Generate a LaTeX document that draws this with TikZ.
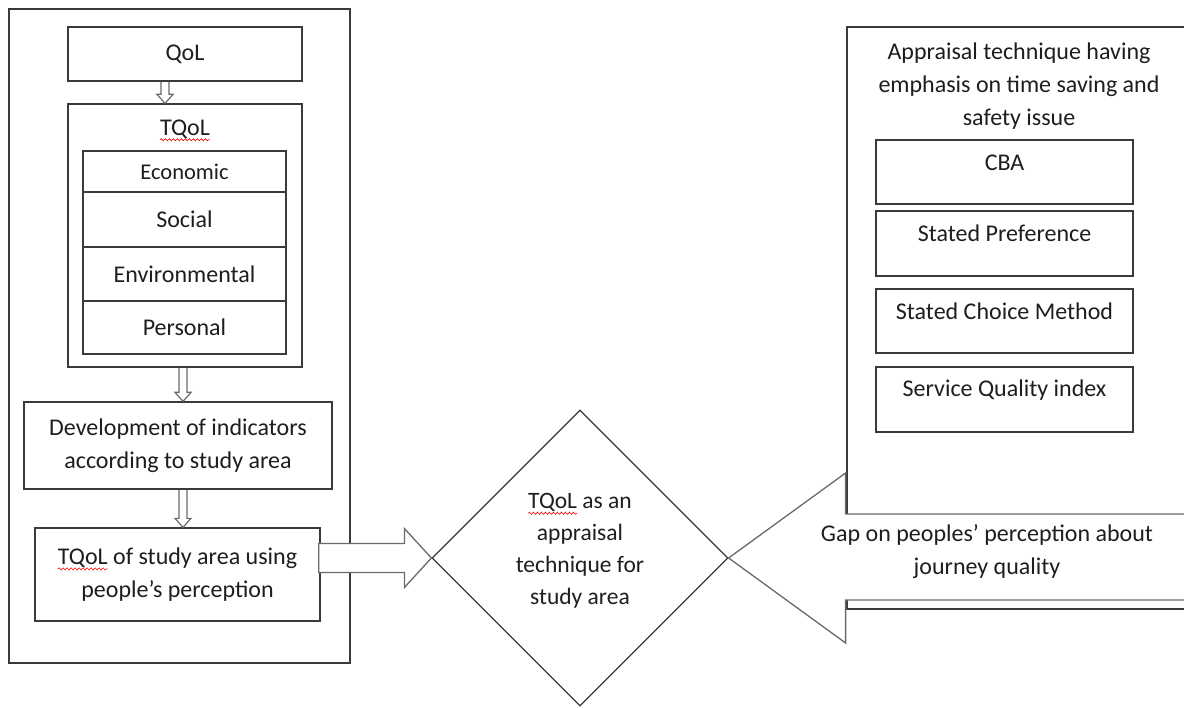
\documentclass[tikz,border=0pt]{standalone}
\usepackage{fontspec}
\setmainfont{Carlito}
\usetikzlibrary{shapes.geometric,calc,decorations.pathmorphing}

\definecolor{ink}{HTML}{1E1E1E}
\definecolor{rule}{HTML}{3A3A3A}
\definecolor{arrowline}{HTML}{6A6A6A}

% red wavy underline under a word
\newcommand\spellmark[1]{\tikz[baseline=(sw.base)]{%
  \node[rectangle, draw=none, fill=none, minimum width=0pt, minimum height=0pt,
    inner sep=0pt, outer sep=0pt, text=ink] (sw) {#1};
  \draw[overlay, red, line width=0.6pt, decorate,
    decoration={snake, segment length=4pt, amplitude=1.1pt}]
    ([yshift=-4.5pt]sw.base west) -- ([yshift=-4.5pt]sw.base east);}}

% hollow downward arrow from the bottom of #1 to the top of #2 at x = #3
\newcommand\hollowdown[3]{%
  \coordinate (hx) at (#3,0);
  \draw[hollow] ($(hx |- #1.south)+(-4,0)$) -- ($(hx |- #2.north)+(-4,-9)$)
    -- ($(hx |- #2.north)+(-8,-9)$) -- (hx |- #2.north)
    -- ($(hx |- #2.north)+(8,-9)$) -- ($(hx |- #2.north)+(4,-9)$)
    -- ($(hx |- #1.south)+(4,0)$);}

\begin{document}
\begin{tikzpicture}[x=1pt,y=-1pt,
  box/.style={draw=rule, line width=1.3pt, fill=white, inner sep=0pt},
  txt/.style={text=ink, font=\fontsize{24}{33}\selectfont, align=center, inner sep=0pt},
  hollow/.style={draw=arrowline, line width=1.2pt, line join=miter},
  bigarrow/.style={draw=arrowline, line width=1.3pt, fill=white, line join=miter}]
\useasboundingbox (0,0) rectangle (1184,708);
\clip (0,0) rectangle (1184,708);

% ---- left column ----
\node[box, minimum width=341, minimum height=654] (frame) at (179.5,336) {};
\node[box, txt, minimum width=234, minimum height=54] (qol) at (185,54) {QoL};
\node[box, minimum width=234, minimum height=263] (tqol) at (185,235.5) {};
\node[txt] (tqoltitle) at (185,129) {\spellmark{TQoL}};
\node[box, txt, font=\fontsize{22.5}{30}\selectfont, minimum width=203, minimum height=41] (econ) at (184.5,171.5) {Economic};
\node[box, txt, minimum width=203, minimum height=55] (social) at (184.5,219.5) {Social};
\node[box, txt, minimum width=203, minimum height=54] (env) at (184.5,274) {Environmental};
\node[box, txt, minimum width=203, minimum height=53] (pers) at (184.5,327.5) {Personal};
\node[box, txt, minimum width=308, minimum height=87] (dev) at (178,445.5)
  {Development of indicators\\according to study area};
\node[box, txt, minimum width=285, minimum height=93] (study) at (177.5,574.5)
  {\spellmark{TQoL} of study area using\\people’s perception};

\hollowdown{qol}{tqol}{165}
\hollowdown{tqol}{dev}{183}
\hollowdown{dev}{study}{183}

% ---- central decision ----
\node[draw=rule, line width=1.2pt, diamond, minimum width=296, minimum height=296, inner sep=0pt] (dia) at (580,558) {};
\node[txt, font=\fontsize{23.5}{32}\selectfont] (diatext) at (580,551)
  {\spellmark{TQoL} as an\\appraisal\\technique for\\study area};

% arrow from the study-area box into the diamond
\draw[bigarrow] ($(study.east |- dia.west)+(-2,-14.5)$) -- ($(dia.west)+(-27,-14.5)$)
  -- ($(dia.west)+(-27,-29.5)$) -- (dia.west) -- ($(dia.west)+(-27,29.5)$)
  -- ($(dia.west)+(-27,14.5)$) -- ($(study.east |- dia.west)+(-2,14.5)$) -- cycle;

% ---- right column ----
\node[box, minimum width=360, minimum height=582] (appr) at (1027,318) {};
\node[txt] (apprtitle) at (1019,86)
  {Appraisal technique having\\emphasis on time saving and\\safety issue};
\node[box, minimum width=257, minimum height=64,
  label={[txt, anchor=center, yshift=-23pt]north:CBA}] (cba) at (1004.5,172) {};
\node[box, minimum width=257, minimum height=65,
  label={[txt, anchor=center, yshift=-23pt]north:Stated Preference}] (sp) at (1004.5,243.5) {};
\node[box, minimum width=257, minimum height=64,
  label={[txt, anchor=center, yshift=-23pt]north:Stated Choice Method}] (scm) at (1004.5,321) {};
\node[box, minimum width=257, minimum height=65,
  label={[txt, anchor=center, yshift=-24pt]north:Service Quality index}] (sqi) at (1004.5,399.5) {};

% arrow pointing back at the diamond
\draw[bigarrow] ($(dia.east)+(117,-85)$) -- (dia.east) -- ($(dia.east)+(117,85)$)
  -- ($(dia.east)+(117,42)$) -- ($(dia.east)+(500,42)$) -- ($(dia.east)+(500,-44)$)
  -- ($(dia.east)+(117,-44)$) -- cycle;
\node[txt] (gap) at (987,552) {Gap on peoples’ perception about\\journey quality};
\end{tikzpicture}
\end{document}
